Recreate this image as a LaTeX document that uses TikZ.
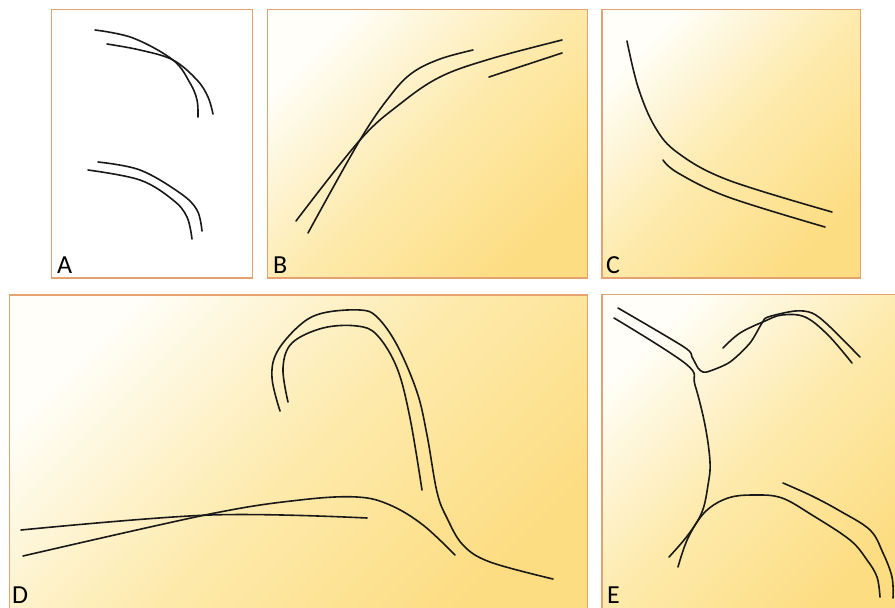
\documentclass[tikz,border=0pt]{standalone}
\usepackage{fontspec}
\setmainfont{Carlito}
\definecolor{frame}{RGB}{228,162,112}
\definecolor{ylw}{RGB}{253,221,130}
\definecolor{ylwmid}{RGB}{253,234,172}
\definecolor{ylwtop}{RGB}{255,254,248}
\definecolor{ink}{RGB}{25,25,25}
\begin{document}
\begin{tikzpicture}[x=1pt,y=-1pt,
  panelbox/.style={draw=frame,line width=1.5pt},
  yellowpanel/.style={panelbox,top color=ylwtop,bottom color=ylw,middle color=ylwmid,shading angle=45},
  vessel/.style={draw=ink,line width=1.6pt,line cap=round},
  panellabel/.style={anchor=base west,inner sep=0pt,font=\fontsize{26}{26}\selectfont,text=black}]
\useasboundingbox (0,0) rectangle (895,608);
\clip (0,0) rectangle (895,608);
% panels
\fill[white] (0,0) rectangle (895,608);
\draw[panelbox,fill=white] (51.5,9.5) rectangle (252.5,278);
\shade[yellowpanel] (267.5,9.5) rectangle (587.5,278);
\shade[yellowpanel] (602,9.5) rectangle (860.5,278);
\shade[yellowpanel] (9.5,295) rectangle (587.5,615);
\shade[yellowpanel] (602,294.5) rectangle (905,615);
% A
\draw[vessel] plot[smooth,tension=0.6] coordinates {(95,30) (133,38) (173,60) (190,83) (197,100) (198,117)};
\draw[vessel] plot[smooth,tension=0.6] coordinates {(107,44) (140,50) (173,60) (197,80) (208,97) (213,114)};
\draw[vessel] plot[smooth,tension=0.6] coordinates {(88,170) (140,180) (173,200) (187,217) (192,239)};
\draw[vessel] plot[smooth,tension=0.6] coordinates {(98,162) (140,170) (180,193) (197,210) (202,231)};
% B
\draw[vessel] plot[smooth,tension=0.6] coordinates {(296,221) (360,140) (400,104) (440,77) (490,59) (562,40)};
\draw[vessel] plot[smooth,tension=0.6] coordinates {(308,233) (360,140) (390,96) (412,73) (440,59) (473,50)};
\draw[vessel] (489,77) -- (562,53);
% C
\draw[vessel] plot[smooth,tension=0.6] coordinates {(627,41) (638,87) (655,127) (678,153) (728,180) (832,212)};
\draw[vessel] plot[smooth,tension=0.6] coordinates {(663,160) (678,173) (728,197) (825,227)};
% D
\draw[vessel] plot[smooth,tension=0.6] coordinates {(23,556) (210,514) (300,500) (357,497) (390,505) (423,525) (455,555)};
\draw[vessel] plot[smooth,tension=0.6] coordinates {(21,530) (210,515) (367,518)};
\draw[vessel] plot[smooth,tension=0.6] coordinates {(280,411) (272,378) (277,352) (300,325) (323,313) (360,310) (377,317) (397,345) (417,392) (427,435) (437,492) (447,518) (463,545) (490,562) (553,579)};
\draw[vessel] plot[smooth,tension=0.6] coordinates {(288,402) (283,368) (292,343) (323,328) (357,326) (377,335) (397,368) (410,418) (422,490)};
% E
\draw[vessel] plot[smooth,tension=0.5] coordinates {(618,308) (684,347) (692,357) (698,368) (703,372) (710,371) (730,362) (750,343) (762,323) (768,317) (795,311) (812,313) (828,325) (860,357)};
\draw[vessel] plot[smooth,tension=0.6] coordinates {(723,348) (740,333) (765,321) (782,315) (805,317) (828,335) (852,363)};
\draw[vessel] plot[smooth,tension=0.6] coordinates {(614,318) (686,364) (695,385) (705,425) (710,462) (708,485) (702,512) (688,535) (669,557)};
\draw[vessel] plot[smooth,tension=0.6] coordinates {(678,567) (688,538) (705,512) (728,498) (755,495) (782,498) (812,515) (850,540) (867,560) (877,577) (880,597)};
\draw[vessel] plot[smooth,tension=0.6] coordinates {(783,483) (812,496) (840,511) (870,530) (883,553) (892,577) (893,598)};
% labels
\node[panellabel] (labA) at (57,273) {A};
\node[panellabel] (labB) at (273,273) {B};
\node[panellabel] (labC) at (606,273) {C};
\node[panellabel] (labD) at (12,603) {D};
\node[panellabel] (labE) at (607,603) {E};
\end{tikzpicture}
\end{document}
